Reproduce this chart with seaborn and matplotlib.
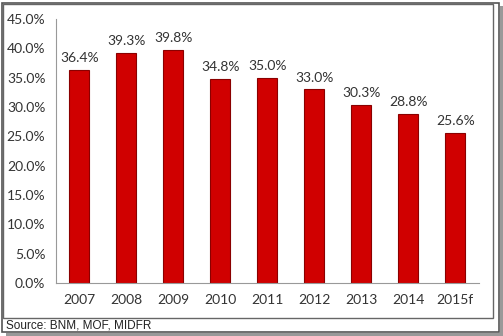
import matplotlib
matplotlib.use("Agg")
import matplotlib.pyplot as plt
from matplotlib.patches import Rectangle
import seaborn as sns
import pandas as pd
import numpy as np

years = ["2007", "2008", "2009", "2010", "2011", "2012", "2013", "2014", "2015f"]
ratio = [36.4, 39.3, 39.8, 34.8, 35.0, 33.0, 30.3, 28.8, 25.6]
source_note = "Source: BNM, MOF, MIDFR"

sns.set_theme(style="white")
plt.rcParams["font.family"] = ["Lato", "DejaVu Sans"]

df = pd.DataFrame({"year": years, "ratio": ratio})

fig = plt.figure(figsize=(5.03, 3.36), dpi=100)
fig.patch.set_facecolor("white")
ax = fig.add_axes([0.111, 0.158, 0.841, 0.785])

sns.barplot(data=df, x="year", y="ratio", color="#D00000", width=0.42,
            saturation=1, edgecolor="#8A0000", linewidth=0.8, ax=ax)

for i, v in enumerate(ratio):
    ax.text(i, v + 1.0, f"{v:.1f}%", ha="center", va="bottom",
            fontsize=10, color="#333333")

ax.set_ylim(0, 45)
ax.set_xlim(-0.5, len(years) - 0.5)
ax.set_yticks(np.arange(0, 46, 5))
ax.set_yticklabels([f"{t:.1f}%" for t in np.arange(0, 46, 5)])
ax.set_xlabel("")
ax.set_ylabel("")
ax.tick_params(axis="both", labelsize=10, colors="#333333", length=4,
               width=0.8, direction="out")
ax.tick_params(axis="x", length=0, pad=8)
ax.tick_params(axis="y", color="#999999")
# category boundary ticks on the x axis
ax.set_xticks(np.arange(-0.5, len(years), 1.0), minor=True)
ax.tick_params(axis="x", which="minor", length=4, color="#999999", width=0.8)

for s in ["top", "right"]:
    ax.spines[s].set_visible(False)
for s in ["left", "bottom"]:
    ax.spines[s].set_color("#999999")
    ax.spines[s].set_linewidth(0.8)

# chart frame and outer frame with shadow
fig.patches.append(Rectangle((2 / 503, 1 - 332 / 336), 497 / 503, 329 / 336,
                             transform=fig.transFigure, fill=False,
                             edgecolor="#555555", linewidth=1.2))
fig.patches.append(Rectangle((6 / 503, 0), 497 / 503, 3 / 336,
                             transform=fig.transFigure, facecolor="#999999",
                             edgecolor="none"))
fig.patches.append(Rectangle((500 / 503, 0), 3 / 503, 330 / 336,
                             transform=fig.transFigure, facecolor="#999999",
                             edgecolor="none"))
fig.patches.append(Rectangle((3 / 503, 1 - 318 / 336), 490 / 503, 314 / 336,
                             transform=fig.transFigure, fill=False,
                             edgecolor="#666666", linewidth=1.0))

fig.text(6 / 503, 1 - 326 / 336, source_note, ha="left", va="center",
         fontsize=8.5, color="#222222", family=["Liberation Sans", "DejaVu Sans"])

fig.savefig("out.png", dpi=100)
